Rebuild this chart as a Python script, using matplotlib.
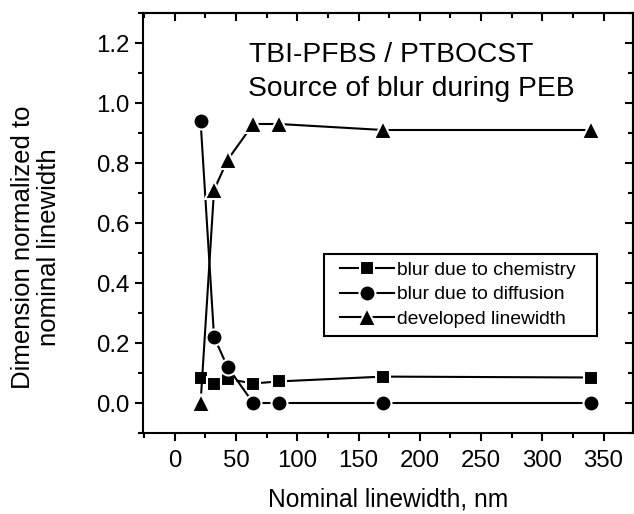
import matplotlib
matplotlib.use('Agg')
import matplotlib.pyplot as plt
from matplotlib.ticker import MultipleLocator
from matplotlib.legend_handler import HandlerLine2D

plt.rcParams['font.family'] = ['Liberation Sans', 'DejaVu Sans']

# data
linewidth_nm = [21, 32, 43, 64, 85, 170, 340]
blur_chemistry = [0.085, 0.065, 0.080, 0.065, 0.072, 0.088, 0.085]
blur_diffusion = [0.94, 0.22, 0.12, 0.0, 0.0, 0.0, 0.0]
developed_lw = [0.0, 0.71, 0.81, 0.93, 0.93, 0.91, 0.91]

labels = ["blur due to chemistry", "blur due to diffusion", "developed linewidth"]

W, H = 634, 514
fig = plt.figure(figsize=(W / 100, H / 100), dpi=100)
ax = fig.add_axes([143 / W, 1 - 433 / H, 490 / W, 420 / H])

line_kw = dict(color='black', lw=1.5, mfc='black', mec='white', mew=1.5)
ax.plot(linewidth_nm, blur_chemistry, marker='s', ms=10.5, label=labels[0], **line_kw)
ax.plot(linewidth_nm, blur_diffusion, marker='o', ms=11.5, label=labels[1], **line_kw)
ax.plot(linewidth_nm, developed_lw, marker='^', ms=13, label=labels[2], **line_kw)

ax.set_xlim(-26, 374)
ax.set_ylim(-0.1, 1.3)
ax.xaxis.set_major_locator(MultipleLocator(50))
ax.xaxis.set_minor_locator(MultipleLocator(25))
ax.yaxis.set_major_locator(MultipleLocator(0.2))
ax.yaxis.set_minor_locator(MultipleLocator(0.1))
ax.yaxis.set_major_formatter(plt.FuncFormatter(lambda v, p: f"{v:.1f}"))

for s in ax.spines.values():
    s.set_linewidth(1.5)
ax.tick_params(which='both', direction='out', width=1.5, labelsize=17.3)
ax.tick_params(which='major', length=6)
ax.tick_params(which='minor', length=3.5)
ax.tick_params(axis='x', which='major', pad=6)
ax.tick_params(axis='y', which='major', pad=4)

# inward ticks on top and right
top = ax.secondary_xaxis('top')
right = ax.secondary_yaxis('right')
top.xaxis.set_major_locator(MultipleLocator(50))
top.xaxis.set_minor_locator(MultipleLocator(25))
right.yaxis.set_major_locator(MultipleLocator(0.2))
right.yaxis.set_minor_locator(MultipleLocator(0.1))
for sec in (top, right):
    sec.tick_params(which='both', direction='in', width=1.5, labelleft=False,
                    labelright=False, labeltop=False, labelbottom=False)
    sec.tick_params(which='major', length=6)
    sec.tick_params(which='minor', length=3.5)
    for s in sec.spines.values():
        s.set_linewidth(1.5)

ax.set_xlabel("Nominal linewidth, nm", fontsize=17.7)
ax.xaxis.set_label_coords((388 - 143) / 490, (433 - 487) / 420)
ax.set_ylabel("Dimension normalized to\nnominal linewidth", fontsize=18.5,
              linespacing=1.1)
ax.yaxis.set_label_coords((61 - 143) / 490, (433 - 247) / 420)

fig.text(249 / W, 1 - 61.5 / H, "TBI-PFBS / PTBOCST", fontsize=20.3, va='baseline')
fig.text(248 / W, 1 - 96.5 / H, "Source of blur during PEB", fontsize=20.3, va='baseline')

# xpad pushes the handle lines a bit in from the frame, like the original
leg = ax.legend(loc='lower left', mode='expand',
                bbox_to_anchor=(324 / W, 1 - 335.5 / H, 273 / W, 84 / H),
                bbox_transform=fig.transFigure, fontsize=13.9, frameon=True,
                fancybox=False, framealpha=1, edgecolor='black',
                handlelength=3.2, handletextpad=0.2, labelspacing=0.36,
                borderpad=0.4, borderaxespad=0,
                handler_map={matplotlib.lines.Line2D: HandlerLine2D(xpad=0.42)})
leg.get_frame().set_linewidth(1.5)
leg._legend_box.align = 'left'

fig.savefig("out.png", dpi=100)
